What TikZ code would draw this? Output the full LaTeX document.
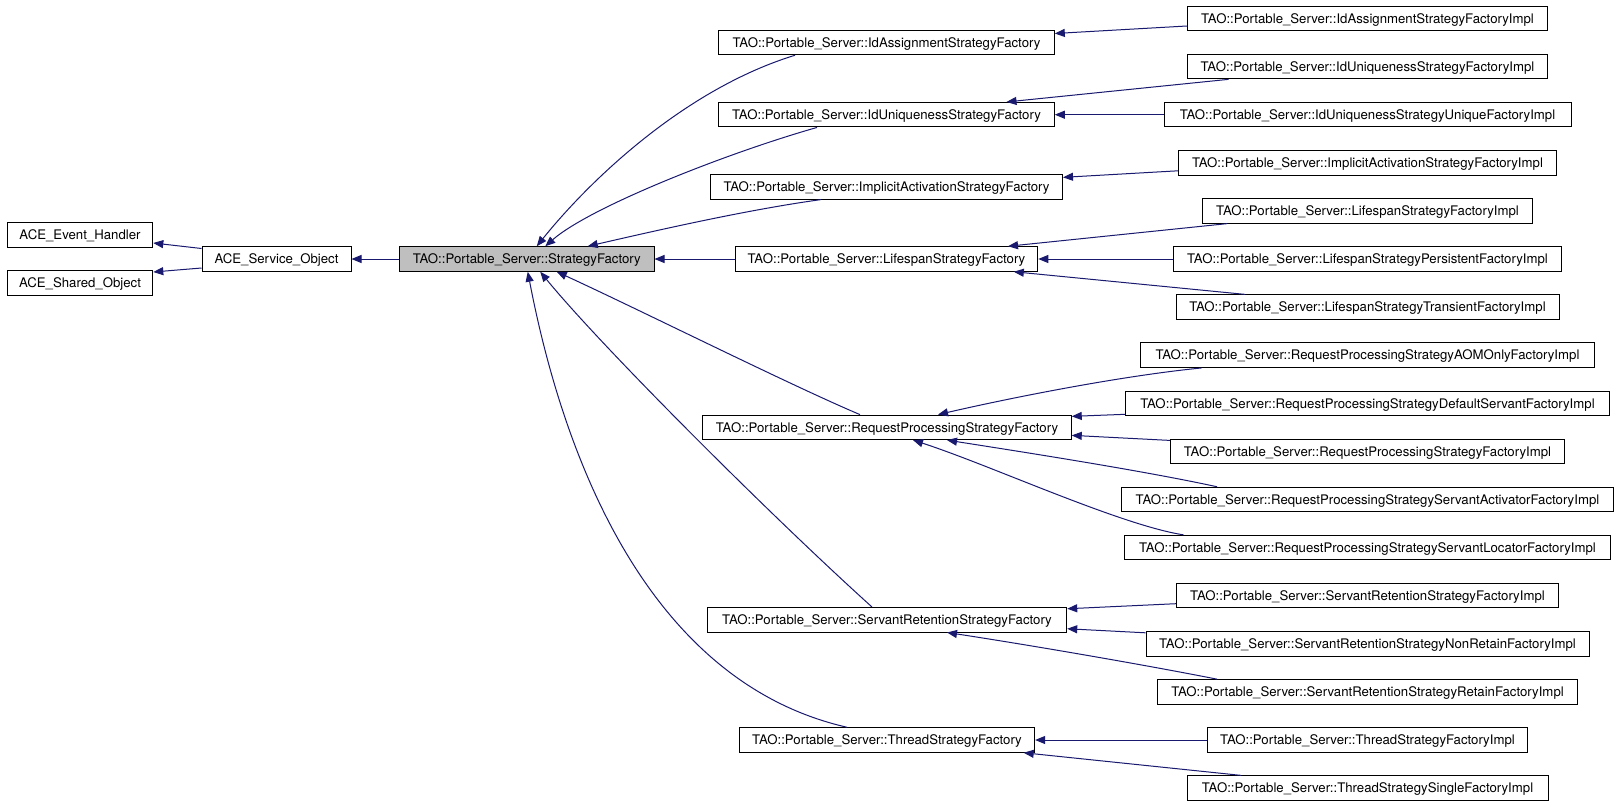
\documentclass[tikz,border=0pt]{standalone}
\usepackage{fontspec}
\setmainfont{TeX Gyre Heros}
\usetikzlibrary{arrows.meta,calc}
\definecolor{navyc}{RGB}{25,25,112}
\definecolor{basegray}{RGB}{191,191,191}
\newcommand{\nodefnt}{\fontsize{13.2}{15}\selectfont}
\tikzset{
  cls/.style={draw=black, line width=1pt, fill=white, inner sep=0pt,
    minimum height=24.5pt, text height=9.4pt, text depth=0pt, font=\nodefnt},
  basecls/.style={cls, fill=basegray},
  inh/.style={draw=navyc, line width=1pt, -{Triangle[length=10pt,width=8pt]}}
}
\begin{document}
\begin{tikzpicture}[x=1pt,y=-1pt]
\fill[white] (0,0) rectangle (1619,803);
\useasboundingbox (0,0) rectangle (1619,803);
% left
\node[cls, minimum width=145.6pt] (eh) at (80,235) {ACE\_Event\_Handler};
\node[cls, minimum width=145.6pt] (so) at (80,283) {ACE\_Shared\_Object};
\node[cls, minimum width=149pt] (svc) at (276.5,259) {ACE\_Service\_Object};
\node[basecls, minimum width=254.5pt] (sf) at (526.75,259) {TAO::Portable\_Server::StrategyFactory};
% middle
\node[cls, minimum width=335.6pt] (ida) at (886.5,42.5) {TAO::Portable\_Server::IdAssignmentStrategyFactory};
\node[cls, minimum width=335.6pt] (idu) at (886.5,114.7) {TAO::Portable\_Server::IdUniquenessStrategyFactory};
\node[cls, minimum width=352pt] (ia) at (886.5,186.85) {TAO::Portable\_Server::ImplicitActivationStrategyFactory};
\node[cls, minimum width=302.6pt] (ls) at (886.5,259) {TAO::Portable\_Server::LifespanStrategyFactory};
\node[cls, minimum width=368.5pt] (rp) at (887,427.35) {TAO::Portable\_Server::RequestProcessingStrategyFactory};
\node[cls, minimum width=359.4pt] (sr) at (887,619.75) {TAO::Portable\_Server::ServantRetentionStrategyFactory};
\node[cls, minimum width=295.3pt] (ts) at (887,740) {TAO::Portable\_Server::ThreadStrategyFactory};
% right
\node[cls, minimum width=360.3pt] (idai) at (1367.5,18.5) {TAO::Portable\_Server::IdAssignmentStrategyFactoryImpl};
\node[cls, minimum width=360.3pt] (idui) at (1367.5,66.6) {TAO::Portable\_Server::IdUniquenessStrategyFactoryImpl};
\node[cls, minimum width=407pt] (uqi) at (1367.5,114.7) {TAO::Portable\_Server::IdUniquenessStrategyUniqueFactoryImpl};
\node[cls, minimum width=378pt] (iai) at (1367.5,162.8) {TAO::Portable\_Server::ImplicitActivationStrategyFactoryImpl};
\node[cls, minimum width=329.3pt] (lsi) at (1367.5,210.9) {TAO::Portable\_Server::LifespanStrategyFactoryImpl};
\node[cls, minimum width=388pt] (lsp) at (1367.5,259) {TAO::Portable\_Server::LifespanStrategyPersistentFactoryImpl};
\node[cls, minimum width=383pt] (lst) at (1367.5,307.1) {TAO::Portable\_Server::LifespanStrategyTransientFactoryImpl};
\node[cls, minimum width=453.2pt] (aom) at (1367.5,355.2) {TAO::Portable\_Server::RequestProcessingStrategyAOMOnlyFactoryImpl};
\node[cls, minimum width=483.2pt] (ds) at (1367.5,403.3) {TAO::Portable\_Server::RequestProcessingStrategyDefaultServantFactoryImpl};
\node[cls, minimum width=394.4pt] (rpi) at (1367.5,451.4) {TAO::Portable\_Server::RequestProcessingStrategyFactoryImpl};
\node[cls, minimum width=491.5pt] (act) at (1367.5,499.5) {TAO::Portable\_Server::RequestProcessingStrategyServantActivatorFactoryImpl};
\node[cls, minimum width=486pt] (loc) at (1367.5,547.6) {TAO::Portable\_Server::RequestProcessingStrategyServantLocatorFactoryImpl};
\node[cls, minimum width=382pt] (sri) at (1367.5,595.7) {TAO::Portable\_Server::ServantRetentionStrategyFactoryImpl};
\node[cls, minimum width=443pt] (nr) at (1367.5,643.8) {TAO::Portable\_Server::ServantRetentionStrategyNonRetainFactoryImpl};
\node[cls, minimum width=419.2pt] (ret) at (1367.5,691.9) {TAO::Portable\_Server::ServantRetentionStrategyRetainFactoryImpl};
\node[cls, minimum width=320pt] (tsi) at (1367.5,740) {TAO::Portable\_Server::ThreadStrategyFactoryImpl};
\node[cls, minimum width=361pt] (tss) at (1367.5,788.1) {TAO::Portable\_Server::ThreadStrategySingleFactoryImpl};
% left edges
\draw[inh] ($(svc.west)+(0,-10.5)$) -- ($(eh.east)+(0,8)$);
\draw[inh] ($(svc.west)+(0,9)$) -- ($(so.east)+(0,-11)$);
\draw[inh] (sf.west) -- (svc.east);
% middle edges
\draw[inh] ($(ida.south)+(-91.5,0)$) .. controls (685,89) and (590,180) .. ($(sf.north)+(10,0)$);
\draw[inh] ($(idu.south)+(-69.5,0)$) .. controls (727,153) and (590,207) .. ($(sf.north)+(18.5,0)$);
\draw[inh] ($(ia.south)+(-65.5,0)$) .. controls (745,210) and (650,232) .. ($(sf.north)+(61,0)$);
\draw[inh] (ls.west) -- (sf.east);
\draw[inh] ($(rp.north)+(-27,0)$) .. controls (790,385) and (640,310) .. ($(sf.south)+(30,0)$);
\draw[inh] ($(sr.north)+(-15,0)$) .. controls (770,515) and (600,345) .. ($(sf.south)+(13.5,0)$);
\draw[inh] ($(ts.north)+(-40,0)$) .. controls (640,680) and (560,440) .. ($(sf.south)+(1,0)$);
% right edges
\draw[inh] ($(idai.west)+(0,7.5)$) -- ($(ida.east)+(0,-9)$);
\draw[inh] ($(idui.south)+(-139,0)$) -- ($(idu.north)+(120,0)$);
\draw[inh] (uqi.west) -- (idu.east);
\draw[inh] ($(iai.west)+(0,8)$) -- ($(ia.east)+(0,-9.5)$);
\draw[inh] ($(lsi.south)+(-140.5,0)$) -- ($(ls.north)+(121.5,0)$);
\draw[inh] (lsp.west) -- (ls.east);
\draw[inh] ($(lst.north)+(-122.7,0)$) -- ($(ls.south)+(127.3,0)$);
\draw[inh] ($(aom.south)+(-166,0)$) .. controls (1120,376) and (1010,398) .. ($(rp.north)+(51,0)$);
\draw[inh] ($(ds.west)+(0,11)$) -- ($(rp.east)+(0,-11)$);
\draw[inh] ($(rpi.west)+(0,-11)$) -- ($(rp.east)+(0,8)$);
\draw[inh] ($(act.north)+(-150.5,0)$) .. controls (1140,470) and (1010,450) .. ($(rp.south)+(60,0)$);
\draw[inh] ($(loc.north)+(-184,0)$) .. controls (1120,525) and (990,465) .. ($(rp.south)+(26,0)$);
\draw[inh] ($(sri.west)+(0,8)$) -- ($(sr.east)+(0,-11)$);
\draw[inh] ($(nr.west)+(0,-11)$) -- ($(sr.east)+(0,9)$);
\draw[inh] ($(ret.north)+(-150.5,0)$) .. controls (1130,662) and (1010,642) .. ($(sr.south)+(60,0)$);
\draw[inh] (tsi.west) -- (ts.east);
\draw[inh] ($(tss.north)+(-126.7,0)$) -- ($(ts.south)+(136.7,0)$);
\end{tikzpicture}
\end{document}
